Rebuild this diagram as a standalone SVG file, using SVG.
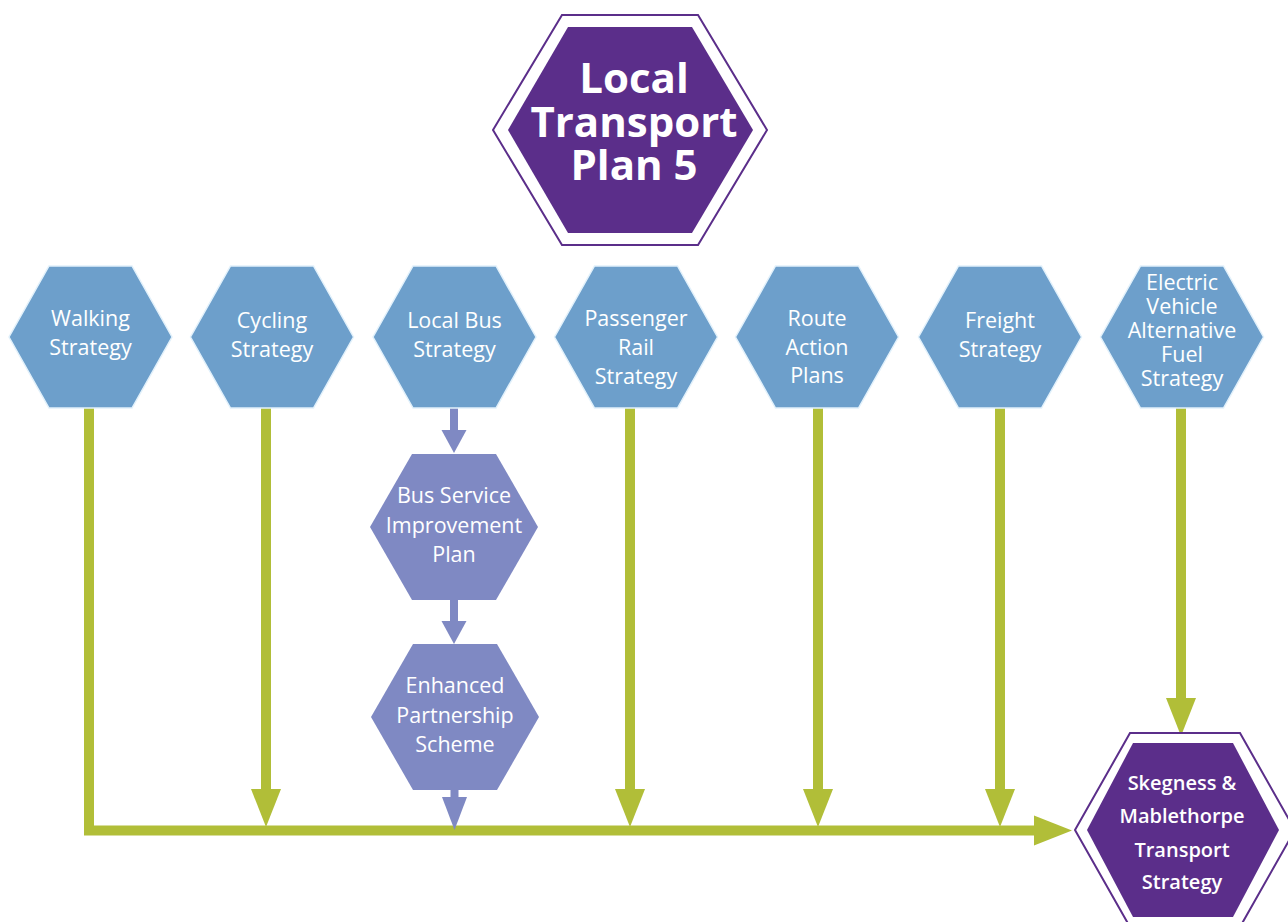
<svg xmlns="http://www.w3.org/2000/svg" width="1288" height="922" viewBox="0 0 1288 922">
<style>
.blue{fill:#6d9fcb;stroke:#e2f1fb;stroke-width:1.5}
.bus{fill:#7f89c3}
.outer{fill:#ffffff;stroke:#5b2e8a;stroke-width:2}
.inner{fill:#5b2e8a}
.t{font-family:"Open Sans","Liberation Sans",sans-serif;fill:#ffffff;text-anchor:middle;font-size:21.5px}
.title{font-family:"Open Sans","Liberation Sans",sans-serif;fill:#ffffff;text-anchor:middle;font-size:42px;font-weight:700}
.sk{font-family:"Open Sans","Liberation Sans",sans-serif;fill:#ffffff;text-anchor:middle;font-size:20px;font-weight:600}
.g{fill:none;stroke:#b1be38;stroke-width:10;stroke-linejoin:miter}
.b{fill:none;stroke:#7f89c3;stroke-width:8}
</style>
<defs>
<path id="hexB" d="M-41.5,-71 L41.5,-71 L81.5,0 L41.5,71 L-41.5,71 L-81.5,0 Z"/>
<path id="hexP" d="M-42,-73 L42,-73 L84,0 L42,73 L-42,73 L-84,0 Z"/>
<marker id="gh" markerUnits="userSpaceOnUse" markerWidth="40" markerHeight="32" viewBox="0 -16 40 32" refX="0" refY="0" orient="auto">
<path d="M0,-15 L38,0 L0,15 Z" fill="#b1be38"/>
</marker>
<marker id="bh" markerUnits="userSpaceOnUse" markerWidth="26" markerHeight="28" viewBox="0 -14 26 28" refX="0" refY="0" orient="auto">
<path d="M0,-12.5 L23,0 L0,12.5 Z" fill="#7f89c3"/>
</marker>
<marker id="bh2" markerUnits="userSpaceOnUse" markerWidth="36" markerHeight="28" viewBox="0 -14 36 28" refX="0" refY="0" orient="auto">
<path d="M0,-12.5 L33,0 L0,12.5 Z" fill="#7f89c3"/>
</marker>
</defs>

<g id="connectors">
<path class="g" d="M89,408 V830.5 H1034" marker-end="url(#gh)"/>
<path class="g" d="M266,408 V789" marker-end="url(#gh)"/>
<path class="g" d="M630,408 V789" marker-end="url(#gh)"/>
<path class="g" d="M818,408 V789" marker-end="url(#gh)"/>
<path class="g" d="M1000,408 V789" marker-end="url(#gh)"/>
<path class="g" d="M1181,408 V698" marker-end="url(#gh)"/>
<path class="b" d="M454,408 V430" marker-end="url(#bh)"/>
<path class="b" d="M454,600 V621" marker-end="url(#bh)"/>
<path class="b" d="M454.5,790 V797" marker-end="url(#bh2)"/>
</g>

<g id="lt5">
<polygon class="outer" points="562,15 698,15 767,130 698,245 562,245 493,130"/>
<polygon class="inner" points="568,27 692,27 753,130 692,233 568,233 508,130"/>
<text class="title" x="634" y="93">Local</text>
<text class="title" x="634" y="137">Transport</text>
<text class="title" x="634" y="180">Plan 5</text>
</g>

<g id="walking">
<use href="#hexB" class="blue" x="90.5" y="337"/>
<text class="t" x="90.5" y="326">Walking</text>
<text class="t" x="90.5" y="355">Strategy</text>
</g>
<g id="cycling">
<use href="#hexB" class="blue" x="272" y="337"/>
<text class="t" x="272" y="328">Cycling</text>
<text class="t" x="272" y="357">Strategy</text>
</g>
<g id="localbus">
<use href="#hexB" class="blue" x="454.5" y="337"/>
<text class="t" x="454.5" y="328">Local Bus</text>
<text class="t" x="454.5" y="357">Strategy</text>
</g>
<g id="rail">
<use href="#hexB" class="blue" x="636" y="337"/>
<text class="t" x="636" y="326">Passenger</text>
<text class="t" x="636" y="355">Rail</text>
<text class="t" x="636" y="384">Strategy</text>
</g>
<g id="route">
<use href="#hexB" class="blue" x="817" y="337"/>
<text class="t" x="817" y="326">Route</text>
<text class="t" x="817" y="355">Action</text>
<text class="t" x="817" y="383">Plans</text>
</g>
<g id="freight">
<use href="#hexB" class="blue" x="1000" y="337"/>
<text class="t" x="1000" y="328">Freight</text>
<text class="t" x="1000" y="357">Strategy</text>
</g>
<g id="ev">
<use href="#hexB" class="blue" x="1182" y="337"/>
<text class="t" x="1182" y="290">Electric</text>
<text class="t" x="1182" y="314">Vehicle</text>
<text class="t" x="1182" y="338">Alternative</text>
<text class="t" x="1182" y="362">Fuel</text>
<text class="t" x="1182" y="386">Strategy</text>
</g>

<g id="bsip">
<use href="#hexP" class="bus" x="454" y="527"/>
<text class="t" x="454" y="503">Bus Service</text>
<text class="t" x="454" y="533">Improvement</text>
<text class="t" x="454" y="562">Plan</text>
</g>
<g id="eps">
<use href="#hexP" class="bus" x="455" y="717"/>
<text class="t" x="455" y="693">Enhanced</text>
<text class="t" x="455" y="723">Partnership</text>
<text class="t" x="455" y="752">Scheme</text>
</g>

<g id="skegness">
<polygon class="outer" points="1130,733 1240,733 1295,830 1240,927 1130,927 1075,830"/>
<polygon class="inner" points="1133,743 1233,743 1279,830 1233,917 1133,917 1087,830"/>
<text class="sk" x="1182" y="790">Skegness &amp;</text>
<text class="sk" x="1182" y="823">Mablethorpe</text>
<text class="sk" x="1182" y="857">Transport</text>
<text class="sk" x="1182" y="889">Strategy</text>
</g>
</svg>
